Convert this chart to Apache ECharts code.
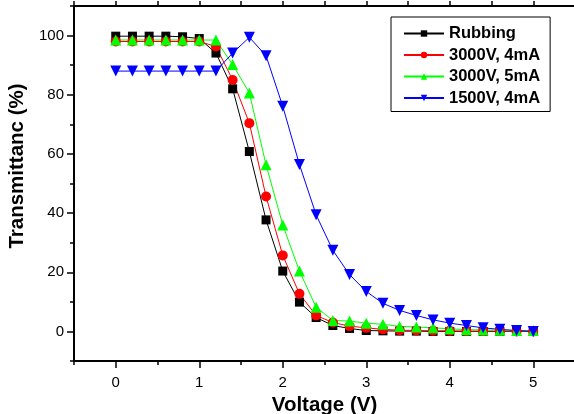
<!DOCTYPE html>
<html>
<head>
<meta charset="utf-8">
<script src="https://cdn.jsdelivr.net/npm/echarts@6/dist/echarts.min.js"></script>
<style>
html,body{margin:0;padding:0;background:#fff;}
#chart{width:574px;height:414px;}
</style>
</head>
<body>
<div id="chart"></div>
<script>
var voltage = [0,0.2,0.4,0.6,0.8,1.0,1.2,1.4,1.6,1.8,2.0,2.2,2.4,2.6,2.8,3.0,3.2,3.4,3.6,3.8,4.0,4.2,4.4,4.6,4.8,5.0];
var rubbing = [99.8,99.8,99.8,99.8,99.6,99.0,94.1,82.0,60.8,37.7,20.4,9.9,4.7,2.0,1.0,0.3,0.2,0.1,0.1,0,0,0,0,0,0,0];
var v3000_4 = [98,98,98,98,98,98,96.3,85.0,70.4,45.6,25.7,12.7,5.4,3.0,1.8,1.2,0.7,0.4,0.3,0.2,0.2,0.1,0.1,0.1,0,0];
var v3000_5 = [98.5,98.5,98.5,98.5,98.5,98.5,98.5,90.2,80.6,56.3,36.0,20.4,8.2,3.7,3.5,2.8,2.4,1.7,1.5,1.2,0.9,0.6,0.5,0.4,0.3,0.3];
var v1500_4 = [88,88,88,88,88,88,88,94.1,99.4,93.2,76.1,56.4,39.4,27.4,19.2,13.5,9.5,7.1,5.4,3.9,2.8,2.0,1.2,0.7,0.3,0.0];
var seriesNames = ['Rubbing','3000V, 4mA','3000V, 5mA','1500V, 4mA'];
var xTicks = [0,1,2,3,4,5];
var yTicks = [0,20,40,60,80,100];

function pairs(ys){ return voltage.map(function(x,i){ return [x, ys[i]]; }); }

var FONT = '"Liberation Sans", Arial, sans-serif';
var chart = echarts.init(document.getElementById('chart'), null, {renderer:'canvas'});
var option = {
  animation:false,
  backgroundColor:'#fff',
  grid:{left:74, top:6, right:-1, bottom:53, containLabel:false, outerBoundsMode:'none'},
  legend:{
    left:391, top:17, orient:'vertical',
    data:seriesNames,
    itemWidth:40, itemHeight:8, itemGap:4.5,
    padding:[8,10,5,12],
    borderColor:'#000', borderWidth:1,
    textStyle:{fontFamily:FONT, fontWeight:'bold', fontSize:16.5, color:'#000', lineHeight:17}
  },
  xAxis:[
    {type:'value', min:-0.5, max:5.5, position:'bottom',
     name:'Voltage (V)', nameLocation:'middle', nameGap:26,
     nameTextStyle:{fontFamily:FONT, fontWeight:'bold', fontSize:20.5, color:'#000'},
     axisLine:{onZero:false, lineStyle:{color:'#000', width:2}},
     axisTick:{customValues:xTicks, length:7, lineStyle:{color:'#000', width:1.5}},
     axisLabel:{customValues:xTicks, fontFamily:FONT, fontSize:15, color:'#000', margin:14},
     splitLine:{show:false}},
    {type:'value', min:-0.5, max:5.5, interval:1, position:'bottom',
     axisLine:{show:false, onZero:false},
     axisTick:{length:4, lineStyle:{color:'#000', width:1.5}},
     axisLabel:{show:false}, splitLine:{show:false}},
    {type:'value', min:-0.5, max:5.5, interval:0.5, position:'top',
     axisLine:{onZero:false, lineStyle:{color:'#000', width:2}},
     axisTick:{length:5, lineStyle:{color:'#000', width:1.5}},
     axisLabel:{show:false}, splitLine:{show:false}}
  ],
  yAxis:[
    {type:'value', min:-10, max:110, position:'left',
     name:'Transmittanc (%)', nameLocation:'middle', nameGap:39, nameRotate:90,
     nameTextStyle:{fontFamily:FONT, fontWeight:'bold', fontSize:20.5, color:'#000', padding:[0,0,0,35]},
     axisLine:{onZero:false, lineStyle:{color:'#000', width:2}},
     axisTick:{customValues:yTicks, length:7, lineStyle:{color:'#000', width:1.5}},
     axisLabel:{customValues:yTicks, fontFamily:FONT, fontSize:15, color:'#000', margin:10},
     splitLine:{show:false}},
    {type:'value', min:-10, max:110, interval:20, position:'left',
     axisLine:{show:false, onZero:false},
     axisTick:{length:4, lineStyle:{color:'#000', width:1.5}},
     axisLabel:{show:false}, splitLine:{show:false}}
  ],
  series:[
    {name:seriesNames[0], type:'line', data:pairs(rubbing), symbol:'rect', symbolSize:9,
     lineStyle:{color:'#000', width:1}, itemStyle:{color:'#000'}},
    {name:seriesNames[1], type:'line', data:pairs(v3000_4), symbol:'circle', symbolSize:10,
     lineStyle:{color:'#ff0000', width:1}, itemStyle:{color:'#ff0000'}},
    {name:seriesNames[2], type:'line', data:pairs(v3000_5), symbol:'triangle', symbolSize:11,
     lineStyle:{color:'#00ff00', width:1}, itemStyle:{color:'#00ff00'}},
    {name:seriesNames[3], type:'line', data:pairs(v1500_4), symbol:'triangle', symbolRotate:180, symbolSize:11,
     lineStyle:{color:'#0000ff', width:1}, itemStyle:{color:'#0000ff'}}
  ]
};
chart.setOption(option);
</script>
</body>
</html>
